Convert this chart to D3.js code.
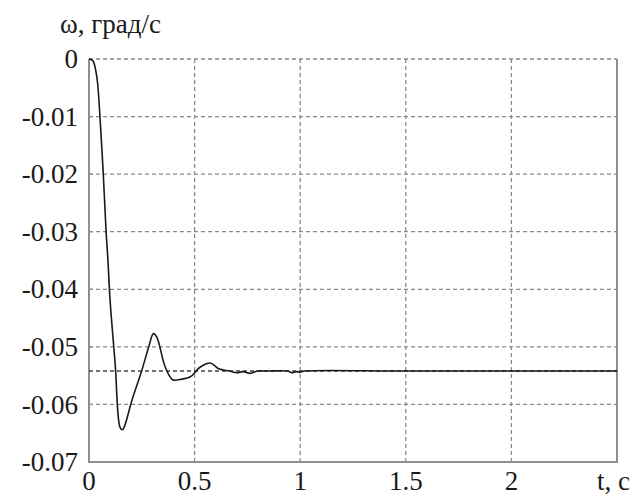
<!DOCTYPE html>
<html>
<head>
<meta charset="utf-8">
<script src="https://cdn.jsdelivr.net/npm/d3@7"></script>
</head>
<body style="margin:0;background:#fff">
<script>
// data
const tValues = [0, 0.01, 0.02, 0.032, 0.041, 0.052, 0.068, 0.081, 0.089, 0.100, 0.124, 0.147, 0.158, 0.168, 0.203, 0.250, 0.282, 0.305, 0.321, 0.361, 0.396, 0.440, 0.480, 0.527, 0.575, 0.614, 0.665, 0.70, 0.73, 0.76, 0.78, 0.80, 0.85, 0.94, 0.96, 0.98, 1.00, 1.02, 1.5, 2.0, 2.5];
const wValues = [0, -0.0001, -0.0004, -0.002, -0.0043, -0.0101, -0.0203, -0.0301, -0.0345, -0.0420, -0.0530, -0.0640, -0.0644, -0.0638, -0.0593, -0.0541, -0.0501, -0.0477, -0.0483, -0.0535, -0.0557, -0.0556, -0.0552, -0.0535, -0.0528, -0.0538, -0.0542, -0.0545, -0.0543, -0.0546, -0.0544, -0.0542, -0.0542, -0.0542, -0.0545, -0.0543, -0.0544, -0.0542, -0.0542, -0.0542, -0.0542];
const steadyValue = -0.0542;
const xTicks = [0, 0.5, 1, 1.5, 2];
const yTicks = [0, -0.01, -0.02, -0.03, -0.04, -0.05, -0.06, -0.07];
const yLabel = "ω, град/с";
const xLabel = "t, c";

const width = 633, height = 498;
const margin = {left: 89, right: 16, top: 59, bottom: 36};

const svg = d3.select("body").append("svg")
  .attr("width", width)
  .attr("height", height)
  .style("display", "block");

const x = d3.scaleLinear().domain([0, 2.5]).range([margin.left, width - margin.right]);
const y = d3.scaleLinear().domain([-0.07, 0]).range([height - margin.bottom, margin.top]);

const gridColor = "#8a8a8a";

// grid
svg.append("g")
  .selectAll("line")
  .data(xTicks.filter(d => d > 0))
  .join("line")
    .attr("x1", d => x(d)).attr("x2", d => x(d))
    .attr("y1", y(0)).attr("y2", y(-0.07))
    .attr("stroke", gridColor)
    .attr("stroke-width", 1.3)
    .attr("stroke-dasharray", "4,3");

svg.append("g")
  .selectAll("line")
  .data(yTicks.filter(d => d > -0.07))
  .join("line")
    .attr("x1", x(0)).attr("x2", x(2.5))
    .attr("y1", d => y(d)).attr("y2", d => y(d))
    .attr("stroke", gridColor)
    .attr("stroke-width", 1.3)
    .attr("stroke-dasharray", "4,3");

// frame: left, bottom, right solid
svg.append("path")
  .attr("d", `M${x(0)},${y(0)}V${y(-0.07)}H${x(2.5)}V${y(0)}`)
  .attr("fill", "none")
  .attr("stroke", "#8f8f8f")
  .attr("stroke-width", 2);

// small inward ticks on the left axis
svg.append("g")
  .selectAll("line")
  .data(yTicks)
  .join("line")
    .attr("x1", x(0)).attr("x2", x(0) + 4)
    .attr("y1", d => y(d)).attr("y2", d => y(d))
    .attr("stroke", "#8f8f8f")
    .attr("stroke-width", 1.3);

// steady state reference
svg.append("line")
  .attr("x1", x(0)).attr("x2", x(2.5))
  .attr("y1", y(steadyValue)).attr("y2", y(steadyValue))
  .attr("stroke", "#444")
  .attr("stroke-width", 1.5)
  .attr("stroke-dasharray", "4,3");

// curve
const line = d3.line()
  .x((d, i) => x(tValues[i]))
  .y(d => y(d))
  .curve(d3.curveCatmullRom.alpha(0.5));

svg.append("path")
  .datum(wValues)
  .attr("d", line)
  .attr("fill", "none")
  .attr("stroke", "#1a1a1a")
  .attr("stroke-width", 1.6);

// tick labels
svg.append("g")
  .selectAll("text")
  .data(yTicks)
  .join("text")
    .style("font-family", '"Liberation Serif"')
    .style("font-size", "27px")
    .attr("fill", "#1a1a1a")
    .attr("text-anchor", "end")
    .attr("x", 78)
    .attr("y", d => y(d))
    .attr("dy", "0.34em")
    .text(d => d === 0 ? "0" : d3.format(".2f")(d).replace("−", "-"));

svg.append("g")
  .selectAll("text")
  .data(xTicks)
  .join("text")
    .style("font-family", '"Liberation Serif"')
    .style("font-size", "27px")
    .attr("fill", "#1a1a1a")
    .attr("text-anchor", "middle")
    .attr("x", d => x(d))
    .attr("y", 490)
    .text(d => d3.format("")(d));

svg.append("text")
  .style("font-family", '"Liberation Serif"')
  .style("font-size", "27px")
  .attr("x", 630)
  .attr("y", 490)
  .attr("text-anchor", "end")
  .attr("fill", "#1a1a1a")
  .text(xLabel);

svg.append("text")
  .style("font-family", '"Liberation Serif"')
  .style("font-size", "27px")
  .attr("x", 60)
  .attr("y", 33)
  .attr("fill", "#1a1a1a")
  .text(yLabel);
</script>
</body>
</html>
